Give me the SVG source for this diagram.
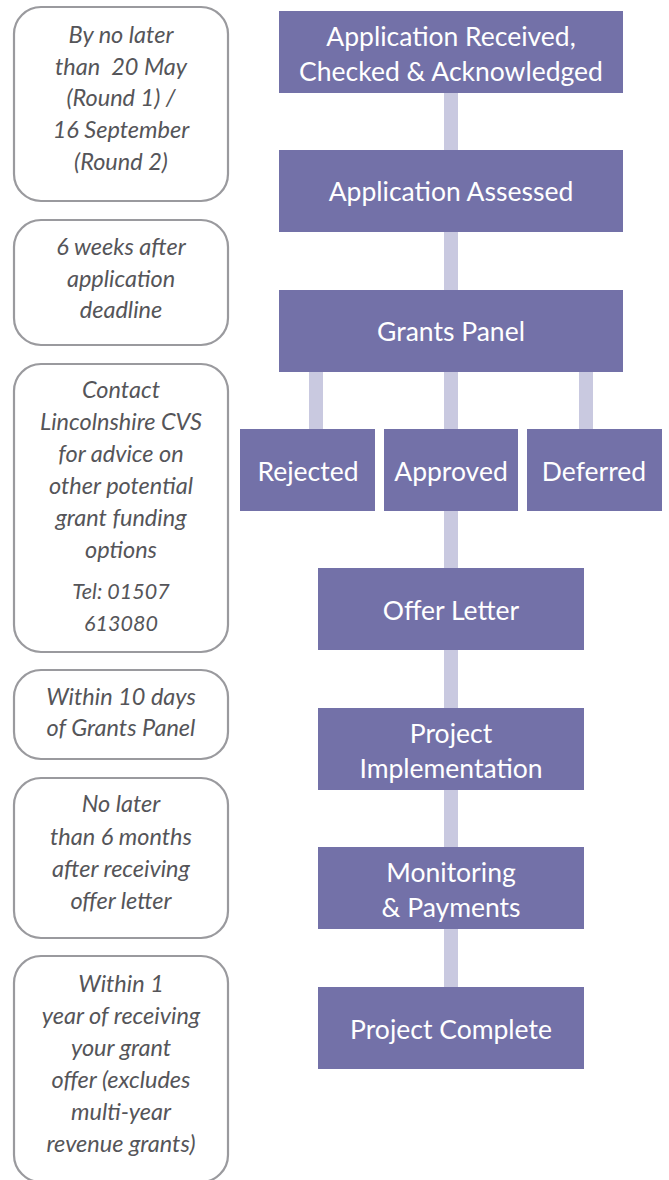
<svg xmlns="http://www.w3.org/2000/svg" width="669" height="1180" viewBox="0 0 669 1180">
<style>
.note{fill:#fff;stroke:#9a9a9e;stroke-width:2.2}
.nt{font-family:Lato,"Liberation Sans",sans-serif;font-style:italic;font-size:23.5px;fill:#555559;text-anchor:middle}
.step{fill:#7371a8}
.st{font-family:Lato,"Liberation Sans",sans-serif;font-size:26.5px;fill:#fff;text-anchor:middle}
.conn{stroke:#c9c9e0;stroke-width:14;fill:none}
</style>
<rect width="669" height="1180" fill="#fff"/>
<g id="connectors">
<line class="conn" x1="451" y1="93" x2="451" y2="150"/>
<line class="conn" x1="451" y1="232" x2="451" y2="290"/>
<line class="conn" x1="316" y1="372" x2="316" y2="429"/>
<line class="conn" x1="451" y1="372" x2="451" y2="429"/>
<line class="conn" x1="586" y1="372" x2="586" y2="429"/>
<line class="conn" x1="451" y1="511" x2="451" y2="568"/>
<line class="conn" x1="451" y1="650" x2="451" y2="708"/>
<line class="conn" x1="451" y1="790" x2="451" y2="847"/>
<line class="conn" x1="451" y1="929" x2="451" y2="987"/>
</g>
<g id="note1"><rect class="note" x="14" y="7" width="214" height="194" rx="27"/>
<text class="nt"><tspan x="121" y="43">By no later</tspan><tspan x="121" y="75" xml:space="preserve">than  20 May</tspan><tspan x="121" y="106">(Round 1) /</tspan><tspan x="121" y="138">16 September</tspan><tspan x="121" y="170">(Round 2)</tspan></text></g>
<g id="note2"><rect class="note" x="14" y="220" width="214" height="125" rx="27"/>
<text class="nt"><tspan x="121" y="255">6 weeks after</tspan><tspan x="121" y="287">application</tspan><tspan x="121" y="318">deadline</tspan></text></g>
<g id="note3"><rect class="note" x="14" y="364" width="214" height="288" rx="27"/>
<text class="nt"><tspan x="121" y="398">Contact</tspan><tspan x="121" y="430">Lincolnshire CVS</tspan><tspan x="121" y="462">for advice on</tspan><tspan x="121" y="494">other potential</tspan><tspan x="121" y="526">grant funding</tspan><tspan x="121" y="558">options</tspan><tspan x="121" y="599" font-size="21.5">Tel: 01507</tspan><tspan x="121" y="631" font-size="21.5">613080</tspan></text></g>
<g id="note4"><rect class="note" x="14" y="670" width="214" height="89" rx="27"/>
<text class="nt"><tspan x="121" y="705">Within 10 days</tspan><tspan x="121" y="736">of Grants Panel</tspan></text></g>
<g id="note5"><rect class="note" x="14" y="778" width="214" height="160" rx="27"/>
<text class="nt"><tspan x="121" y="812">No later</tspan><tspan x="121" y="845">than 6 months</tspan><tspan x="121" y="877">after receiving</tspan><tspan x="121" y="909">offer letter</tspan></text></g>
<g id="note6"><rect class="note" x="14" y="956" width="214" height="226" rx="27"/>
<text class="nt"><tspan x="121" y="992">Within 1</tspan><tspan x="121" y="1024">year of receiving</tspan><tspan x="121" y="1056">your grant</tspan><tspan x="121" y="1088">offer (excludes</tspan><tspan x="121" y="1120">multi-year</tspan><tspan x="121" y="1152">revenue grants)</tspan></text></g>
<g id="received"><rect class="step" x="279" y="11" width="344" height="82"/>
<text class="st"><tspan x="451" y="46">Application Received,</tspan><tspan x="451" y="81">Checked &amp; Acknowledged</tspan></text></g>
<g id="assessed"><rect class="step" x="279" y="150" width="344" height="82"/>
<text class="st" x="451" y="201">Application Assessed</text></g>
<g id="panel"><rect class="step" x="279" y="290" width="344" height="82"/>
<text class="st" x="451" y="341">Grants Panel</text></g>
<g id="rejected"><rect class="step" x="240" y="429" width="135" height="82"/>
<text class="st" x="308" y="481">Rejected</text></g>
<g id="approved"><rect class="step" x="384" y="429" width="134" height="82"/>
<text class="st" x="451" y="481">Approved</text></g>
<g id="deferred"><rect class="step" x="527" y="429" width="135" height="82"/>
<text class="st" x="594" y="481">Deferred</text></g>
<g id="offer"><rect class="step" x="318" y="568" width="266" height="82"/>
<text class="st" x="451" y="620">Offer Letter</text></g>
<g id="implementation"><rect class="step" x="318" y="708" width="266" height="82"/>
<text class="st"><tspan x="451" y="743">Project</tspan><tspan x="451" y="778">Implementation</tspan></text></g>
<g id="monitoring"><rect class="step" x="318" y="847" width="266" height="82"/>
<text class="st"><tspan x="451" y="882">Monitoring</tspan><tspan x="451" y="917">&amp; Payments</tspan></text></g>
<g id="complete"><rect class="step" x="318" y="987" width="266" height="82"/>
<text class="st" x="451" y="1039">Project Complete</text></g>
</svg>
